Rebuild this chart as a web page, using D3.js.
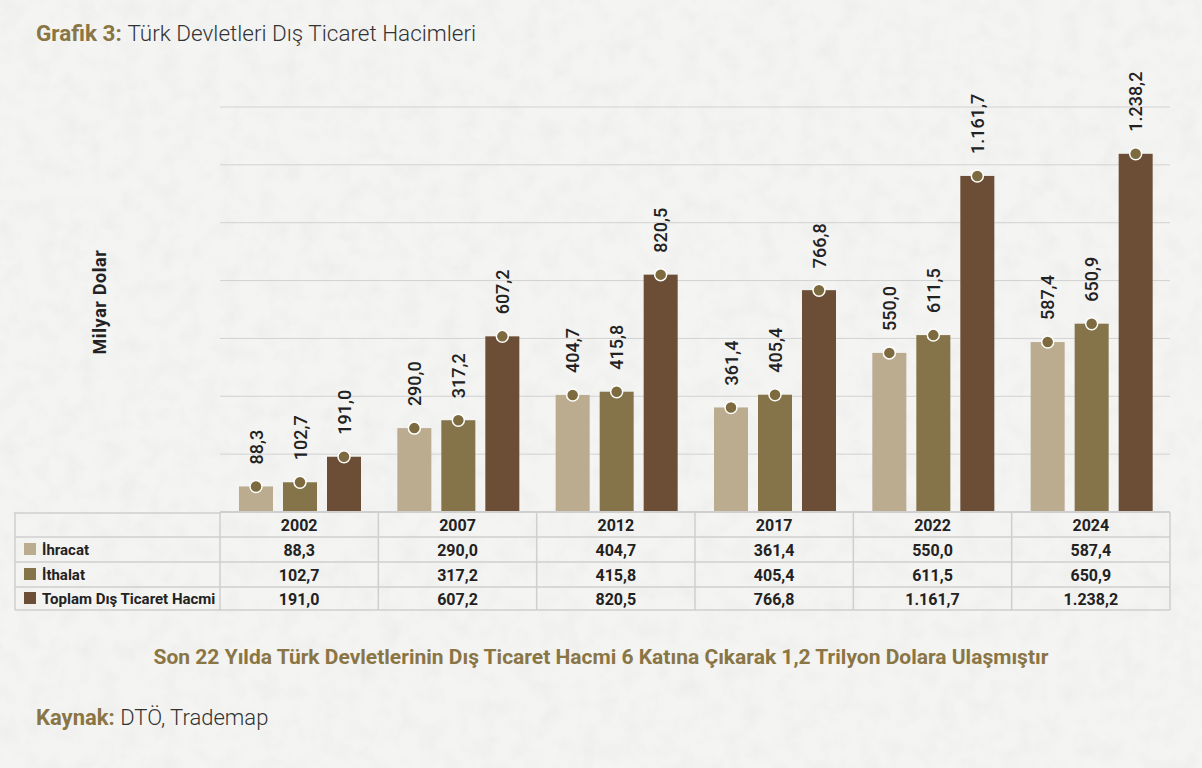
<!DOCTYPE html>
<html>
<head>
<meta charset="utf-8">
<script src="https://cdn.jsdelivr.net/npm/d3@7"></script>
<style>
  html, body { margin: 0; padding: 0; background: #f2f2f1; }
  svg { display: block; font-family: Roboto, "Noto Sans", sans-serif; }
</style>
</head>
<body>
<div id="svg-container"></div>
<script>
// data
const years = ['2002', '2007', '2012', '2017', '2022', '2024']
const ihracat = [88.3, 290.0, 404.7, 361.4, 550.0, 587.4]
const ithalat = [102.7, 317.2, 415.8, 405.4, 611.5, 650.9]
const toplam = [191.0, 607.2, 820.5, 766.8, 1161.7, 1238.2]
const seriesNames = ['İhracat', 'İthalat', 'Toplam Dış Ticaret Hacmi']
const gridTicks = [0, 200, 400, 600, 800, 1000, 1200, 1400]

const seriesValues = [ihracat, ithalat, toplam]
const colors = ['#bbab8f', '#85744a', '#6b4e35']

// dimensions
const W = 1202, H = 768
const plot = { left: 220, right: 1170, top: 107, bottom: 512 }
const table = { left: 15, rows: [512, 537, 562, 587, 610] }

const trFormat = d3.formatLocale({ decimal: ',', thousands: '.', grouping: [3], currency: ['', ''] }).format(',.1f')

const svg = d3.select('#svg-container')
  .append('svg')
    .attr('width', W)
    .attr('height', H)

// paper background
const defs = svg.append('defs')
const filt = defs.append('filter').attr('id', 'paper').attr('x', 0).attr('y', 0).attr('width', '100%').attr('height', '100%')
filt.append('feTurbulence').attr('type', 'fractalNoise').attr('baseFrequency', 0.05).attr('numOctaves', 3).attr('seed', 4)
filt.append('feColorMatrix').attr('type', 'matrix')
  .attr('values', '0 0 0 0 0.6  0 0 0 0 0.6  0 0 0 0 0.6  0 0 0 -0.9 0.55')
svg.append('rect').attr('width', W).attr('height', H).attr('fill', '#f4f4f3')
svg.append('rect').attr('width', W).attr('height', H).attr('filter', 'url(#paper)').attr('opacity', 0.3)

// scales
const xScale = d3.scaleBand()
  .domain(years)
  .range([plot.left, plot.right])
  .padding(0)

const xInner = d3.scaleBand()
  .domain(d3.range(3))
  .range([19, 141])
  .paddingInner(10 / 44)
  .paddingOuter(0)

const yScale = d3.scaleLinear()
  .domain([0, 1400])
  .range([plot.bottom, plot.top])

// title
const title = svg.append('text').attr('x', 36).attr('y', 41).attr('font-size', 22.5)
title.append('tspan').attr('font-weight', 700).attr('fill', '#8a7545').text('Grafik 3: ')
title.append('tspan').attr('fill', '#333').attr('font-weight', 300).text('Türk Devletleri Dış Ticaret Hacimleri')

// y label
svg.append('text')
  .attr('transform', 'translate(106, 302) rotate(-90)')
  .attr('text-anchor', 'middle')
  .attr('font-size', 18)
  .attr('font-weight', 700)
  .attr('letter-spacing', 0.6)
  .attr('fill', '#222')
  .text('Milyar Dolar')

// gridlines
svg.append('g')
  .selectAll('line')
  .data(gridTicks.slice(1))
  .join('line')
    .attr('x1', plot.left)
    .attr('x2', plot.right)
    .attr('y1', d => yScale(d))
    .attr('y2', d => yScale(d))
    .attr('stroke', '#d2d2d2')
    .attr('stroke-width', 1)

// bars
const flat = []
years.forEach((y, i) => seriesValues.forEach((arr, s) => flat.push({ year: y, s, v: arr[i] })))

const bx = d => xScale(d.year) + xInner(d.s)

svg.append('g')
  .selectAll('rect')
  .data(flat)
  .join('rect')
    .attr('x', bx)
    .attr('y', d => yScale(d.v))
    .attr('width', xInner.bandwidth())
    .attr('height', d => yScale(0) - yScale(d.v))
    .attr('fill', d => colors[d.s])

// markers
svg.append('g')
  .selectAll('circle')
  .data(flat)
  .join('circle')
    .attr('cx', d => bx(d) + xInner.bandwidth() / 2)
    .attr('cy', d => yScale(d.v))
    .attr('r', 6)
    .attr('fill', '#7d6a3f')
    .attr('stroke', '#fff')
    .attr('stroke-width', 1.5)

// value labels
svg.append('g')
  .selectAll('text')
  .data(flat)
  .join('text')
    .attr('transform', d => `translate(${bx(d) + xInner.bandwidth() / 2 + 6.5}, ${yScale(d.v) - 22}) rotate(-90)`)
    .attr('font-size', 18)
    .attr('font-weight', 500)
    .attr('fill', '#222')
    .text(d => trFormat(d.v))

// table
const tg = svg.append('g')
const rows = table.rows
const lineColor = '#cfcfcf'
// horizontal lines
rows.forEach((y, i) => {
  tg.append('line')
    .attr('x1', i === 0 ? plot.left : table.left).attr('x2', plot.right)
    .attr('y1', y).attr('y2', y)
    .attr('stroke', lineColor).attr('stroke-width', i === 0 ? 2 : 1.5)
})
tg.append('line').attr('x1', table.left).attr('x2', plot.left).attr('y1', rows[0] + 1).attr('y2', rows[0] + 1)
  .attr('stroke', lineColor).attr('stroke-width', 1.5)
// vertical lines
const vxs = [table.left, ...years.map(y => xScale(y)), plot.right]
vxs.forEach(x => {
  tg.append('line')
    .attr('x1', x).attr('x2', x)
    .attr('y1', rows[0]).attr('y2', rows[rows.length - 1])
    .attr('stroke', lineColor).attr('stroke-width', 1.5)
})

// header years
tg.selectAll('text.year')
  .data(years)
  .join('text')
    .attr('class', 'year')
    .attr('x', d => xScale(d) + xScale.bandwidth() / 2)
    .attr('y', (rows[0] + rows[1]) / 2 + 6)
    .attr('text-anchor', 'middle')
    .attr('font-size', 16)
    .attr('font-weight', 700)
    .attr('fill', '#222')
    .text(d => d)

// rows
seriesValues.forEach((arr, s) => {
  const yMid = (rows[s + 1] + rows[s + 2]) / 2
  tg.append('rect')
    .attr('x', 24).attr('y', yMid - 6.5)
    .attr('width', 12).attr('height', 12)
    .attr('fill', colors[s])
  tg.append('text')
    .attr('x', 42).attr('y', yMid + 5.5)
    .attr('font-size', 15).attr('font-weight', 700).attr('fill', '#222')
    .text(seriesNames[s])
  tg.selectAll(`text.v${s}`)
    .data(arr)
    .join('text')
      .attr('class', `v${s}`)
      .attr('x', (d, i) => xScale(years[i]) + xScale.bandwidth() / 2)
      .attr('y', yMid + 6)
      .attr('text-anchor', 'middle')
      .attr('font-size', 16)
      .attr('font-weight', 700)
      .attr('fill', '#222')
      .text(d => trFormat(d))
})

// subtitle
svg.append('text')
  .attr('x', 601).attr('y', 664)
  .attr('text-anchor', 'middle')
  .attr('font-size', 21)
  .attr('font-weight', 700)
  .attr('fill', '#8a7545')
  .text('Son 22 Yılda Türk Devletlerinin Dış Ticaret Hacmi 6 Katına Çıkarak 1,2 Trilyon Dolara Ulaşmıştır')

// source
const src = svg.append('text').attr('x', 36).attr('y', 725).attr('font-size', 22)
src.append('tspan').attr('font-weight', 700).attr('fill', '#8a7545').text('Kaynak: ')
src.append('tspan').attr('fill', '#333').attr('font-weight', 300).text('DTÖ, Trademap')
</script>
</body>
</html>
